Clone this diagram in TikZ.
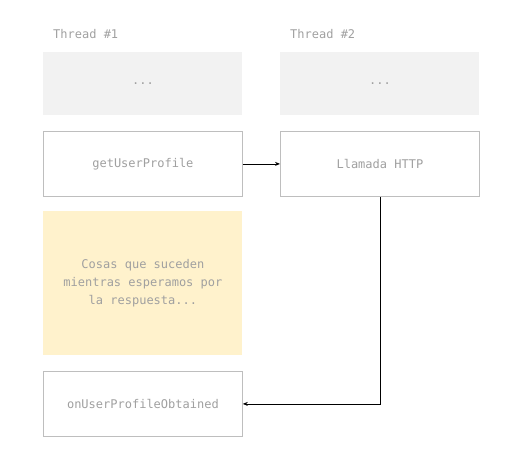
\documentclass[tikz,border=0pt]{standalone}
\usepackage{fontspec}
\setmonofont{DejaVu Sans Mono}
\usepackage{tikz}
\usetikzlibrary{arrows.meta,positioning}
\definecolor{boxgray}{RGB}{242,242,242}
\definecolor{edgegray}{RGB}{190,190,190}
\definecolor{textgray}{RGB}{160,160,160}
\definecolor{waityellow}{RGB}{255,242,204}

\begin{document}
\begin{tikzpicture}[x=1pt,y=-1pt,
    font=\ttfamily\fontsize{12}{18}\selectfont,
    stepbox/.style={draw=edgegray, line width=0.8pt, fill=white, text=textgray,
      minimum width=199pt, minimum height=65pt, inner sep=0pt, anchor=north west},
    idlebox/.style={stepbox, draw=none, fill=boxgray, minimum height=63pt},
    waitbox/.style={stepbox, draw=none, fill=waityellow, minimum height=144pt,
      align=center},
    link/.style={-{Stealth[length=5pt,width=4pt]}, line width=0.8pt, black}]
    \useasboundingbox (0,0) rectangle (529,464);

    % Thread headers
    \node[anchor=west, text=textgray, inner sep=0pt] (head1) at (53,34) {Thread \#1};
    \node[anchor=west, text=textgray, inner sep=0pt] (head2) at (290,34) {Thread \#2};

    % Thread 1
    \node[idlebox] (idle1) at (43,52) {...};
    \node[stepbox] (profile) at (43,131) {getUserProfile};
    \node[waitbox] (wait) at (43,211) {Cosas que suceden\\mientras esperamos por\\la respuesta...};
    \node[stepbox] (obtained) at (43,371) {onUserProfileObtained};

    % Thread 2
    \node[idlebox] (idle2) at (280,52) {...};
    \node[stepbox] (http) at (280,131) {Llamada HTTP};

    % Connectors
    \draw[link] (profile.east) -- (http.west);
    \draw[link] (http.south) |- (obtained.east);
\end{tikzpicture}
\end{document}
